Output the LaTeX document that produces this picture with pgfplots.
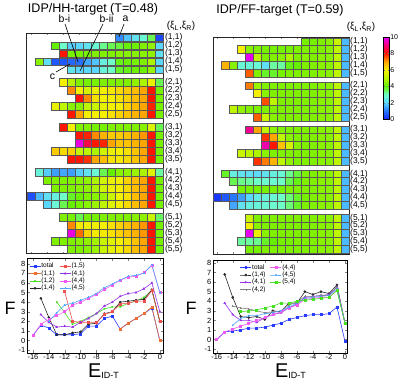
\documentclass[border=0pt]{standalone}
\usepackage{pgfplots}
\pgfplotsset{compat=1.18}
\usepackage{fontspec}
\setmainfont{Liberation Sans}
\setsansfont{Liberation Sans}

\pgfplotsset{
  colormap={idp}{rgb255(0cm)=(20,40,255); rgb255(1cm)=(40,120,255); rgb255(2cm)=(90,215,255); rgb255(3cm)=(110,255,200); rgb255(4cm)=(100,240,0); rgb255(5cm)=(190,245,0); rgb255(6cm)=(245,240,0); rgb255(7cm)=(255,165,0); rgb255(8cm)=(255,20,0); rgb255(9cm)=(245,0,120); rgb255(10cm)=(230,0,255)},
  hm/.style={
    scale only axis, anchor=north west,
    y dir=reverse, ymin=0.4, ymax=28.0,
    xtick={-16,-14,...,0}, xticklabels={},
    tick align=inside, major tick length=2bp,
    ytick={1,2,3,4,5,6.6,7.6,8.6,9.6,10.6,12.2,13.2,14.2,15.2,16.2,17.8,18.8,19.8,20.8,21.8,23.4,24.4,25.4,26.4,27.4},
    yticklabels={(1,1),(1,2),(1,3),(1,4),(1,5),(2,1),(2,2),(2,3),(2,4),(2,5),(3,1),(3,2),(3,3),(3,4),(3,5),(4,1),(4,2),(4,3),(4,4),(4,5),(5,1),(5,2),(5,3),(5,4),(5,5)},
    yticklabel pos=right,
    y tick style={draw=none},
    yticklabel style={font=\fontsize{8.5}{9}\selectfont, inner sep=1bp},
    axis line style={line width=0.7pt, black!85},
    colormap name=idp, point meta min=0, point meta max=10,
    clip=false,
  },
  hmcell/.style={scatter, only marks, mark=square*, mark size=3.95pt, point meta=explicit,
    scatter/use mapped color={draw=black!65, fill=mapped color}, line width=0.5pt},
  lc/.style={
    scale only axis, anchor=north west,
    xtick={-16,-14,...,0}, ytick={-1,0,...,8},
    tick align=inside, major tick length=2.5bp,
    ticklabel style={font=\fontsize{7.5}{8}\selectfont},
    xticklabel style={inner sep=1.5bp},
    yticklabel style={inner sep=1.5bp},
    /pgf/number format/assume math mode=true,
    axis line style={line width=0.6pt},
    transpose legend,
    legend columns=4,
    legend cell align=left,
    legend style={draw=none, fill=none, font=\fontsize{6.5}{7}\selectfont, anchor=north west,
      inner sep=0pt, nodes={inner sep=0.6bp},
      /tikz/every even column/.append style={column sep=4bp}},
    legend image code/.code={\draw[mark repeat=2,mark phase=2] plot coordinates {(0bp,0bp) (5.5bp,0bp) (11bp,0bp)};},
    every axis plot/.append style={line width=0.6pt, mark size=1pt, mark options={solid}},
  },
}
\newcommand{\hrow}[2]{\addplot[hmcell] table[header=false, x index=0, y expr={#1}, meta index=1, row sep=\\]{#2};}

\definecolor{cTot}{RGB}{40,60,255}
\definecolor{cOne}{RGB}{240,110,50}
\definecolor{cTwo}{RGB}{70,225,30}
\definecolor{cBlk}{RGB}{40,40,40}
\definecolor{cRed}{RGB}{240,80,80}
\definecolor{cPur}{RGB}{150,50,230}
\definecolor{cPnk}{RGB}{240,90,240}
\definecolor{cLbl}{RGB}{80,165,255}
\definecolor{cGry}{RGB}{130,130,130}

\begin{document}
\begin{tikzpicture}
\path[use as bounding box] (0,0) rectangle (398bp,-384bp);

% ---------------- left heatmap ----------------
\begin{axis}[hm, at={(26bp,-33bp)}, width=137.8bp, height=220.8bp, xmin=-16.625, xmax=0.6]
\hrow{1}{-5 1.2\\-4 1.8\\-3 2.3\\-2 2.8\\-1 3.6\\0 0.4\\}
\hrow{2}{-13 4.0\\-12 3.0\\-11 1.9\\-10 2.0\\-9 2.3\\-8 2.8\\-7 3.3\\-6 3.6\\-5 3.7\\-4 4.0\\-3 4.1\\-2 4.3\\-1 4.5\\0 2.0\\}
\hrow{3}{-12 8.0\\-11 4.2\\-10 4.2\\-9 4.2\\-8 4.3\\-7 4.3\\-6 4.3\\-5 4.4\\-4 4.4\\-3 4.4\\-2 4.4\\-1 4.5\\0 2.2\\}
\hrow{4}{-15 4.4\\-14 2.2\\-13 0.6\\-12 0.6\\-11 0.8\\-10 0.9\\-9 1.5\\-8 1.8\\-7 2.6\\-6 3.0\\-5 3.9\\-4 4.1\\-3 4.2\\-2 4.3\\-1 4.8\\0 2.0\\}
\hrow{5}{-11 2.3\\-10 2.0\\-9 2.0\\-8 2.0\\-7 2.7\\-6 3.0\\-5 3.8\\-4 3.9\\-3 4.1\\-2 4.1\\-1 4.6\\0 2.0\\}
\hrow{6.6}{-12 6.0\\-11 4.9\\-10 4.3\\-9 4.2\\-8 4.2\\-7 4.3\\-6 4.3\\-5 4.3\\-4 4.3\\-3 4.5\\-2 4.8\\-1 5.8\\0 3.6\\}
\hrow{7.6}{-11 7.2\\-10 6.0\\-9 5.4\\-8 5.8\\-7 6.0\\-6 6.1\\-5 6.3\\-4 6.5\\-3 6.7\\-2 7.0\\-1 8.0\\0 4.2\\}
\hrow{8.6}{-10 8.1\\-9 7.2\\-8 6.2\\-7 6.0\\-6 6.0\\-5 6.2\\-4 6.4\\-3 6.7\\-2 7.0\\-1 8.0\\0 4.2\\}
\hrow{9.6}{-13 5.8\\-12 5.0\\-11 4.4\\-10 4.4\\-9 5.0\\-8 5.2\\-7 5.7\\-6 6.0\\-5 6.0\\-4 6.4\\-3 6.7\\-2 7.0\\-1 7.9\\0 4.2\\}
\hrow{10.6}{-11 8.0\\-10 7.0\\-9 6.0\\-8 6.0\\-7 6.0\\-6 6.2\\-5 6.4\\-4 6.6\\-3 6.8\\-2 7.0\\-1 8.0\\0 4.2\\}
\hrow{12.2}{-12 8.0\\-11 6.0\\-10 4.3\\-9 4.3\\-8 4.2\\-7 4.2\\-6 4.3\\-5 4.3\\-4 4.3\\-3 4.3\\-2 4.4\\-1 5.5\\0 3.6\\}
\hrow{13.2}{-10 8.0\\-9 7.9\\-8 7.2\\-7 6.8\\-6 6.5\\-5 6.5\\-4 6.6\\-3 6.8\\-2 7.1\\-1 8.0\\0 4.2\\}
\hrow{14.2}{-10 9.8\\-9 8.6\\-8 8.0\\-7 7.9\\-6 7.0\\-5 6.6\\-4 6.6\\-3 6.8\\-2 7.0\\-1 8.0\\0 4.2\\}
\hrow{15.2}{-13 6.5\\-12 6.3\\-11 6.4\\-10 5.2\\-9 5.0\\-8 4.8\\-7 5.3\\-6 5.8\\-5 6.0\\-4 6.2\\-3 6.6\\-2 7.0\\-1 8.0\\0 4.2\\}
\hrow{16.2}{-11 8.0\\-10 8.0\\-9 7.8\\-8 7.0\\-7 6.7\\-6 6.2\\-5 6.1\\-4 6.3\\-3 6.6\\-2 7.0\\-1 8.0\\0 4.2\\}
\hrow{17.8}{-15 2.7\\-14 1.9\\-13 1.4\\-12 1.5\\-11 1.4\\-10 1.9\\-9 2.3\\-8 2.8\\-7 3.6\\-6 4.0\\-5 4.4\\-4 4.5\\-3 4.6\\-2 4.8\\-1 5.6\\0 3.2\\}
\hrow{18.8}{-14 4.3\\-13 4.3\\-12 4.3\\-11 4.3\\-10 4.4\\-9 4.5\\-8 4.8\\-7 5.3\\-6 5.8\\-5 6.0\\-4 6.4\\-3 6.7\\-2 7.0\\-1 8.0\\0 4.2\\}
\hrow{19.8}{-13 4.3\\-12 4.3\\-11 4.3\\-10 4.4\\-9 4.5\\-8 4.8\\-7 5.3\\-6 5.8\\-5 6.0\\-4 6.3\\-3 6.7\\-2 7.0\\-1 8.0\\0 4.2\\}
\hrow{20.8}{-16 0.5\\-15 1.7\\-14 2.2\\-13 2.6\\-12 3.0\\-11 3.8\\-10 4.1\\-9 4.3\\-8 4.4\\-7 4.6\\-6 5.2\\-5 5.9\\-4 6.2\\-3 6.7\\-2 7.0\\-1 8.0\\0 4.2\\}
\hrow{21.8}{-14 2.0\\-13 2.8\\-12 3.6\\-11 4.0\\-10 4.2\\-9 4.4\\-8 4.6\\-7 5.0\\-6 5.6\\-5 6.0\\-4 6.3\\-3 6.7\\-2 7.0\\-1 8.0\\0 4.2\\}
\hrow{23.4}{-12 4.3\\-11 4.2\\-10 3.6\\-9 4.2\\-8 4.2\\-7 4.3\\-6 4.3\\-5 4.3\\-4 4.3\\-3 4.4\\-2 4.5\\-1 5.2\\0 3.5\\}
\hrow{24.4}{-11 7.2\\-10 6.1\\-9 5.9\\-8 5.9\\-7 6.0\\-6 6.2\\-5 6.4\\-4 6.6\\-3 6.8\\-2 7.1\\-1 8.0\\0 4.2\\}
\hrow{25.4}{-11 9.8\\-10 7.4\\-9 6.4\\-8 6.1\\-7 6.1\\-6 6.2\\-5 6.4\\-4 6.6\\-3 6.8\\-2 7.1\\-1 8.0\\0 4.2\\}
\hrow{26.4}{-13 4.3\\-12 4.3\\-11 4.3\\-10 4.4\\-9 4.5\\-8 4.7\\-7 5.2\\-6 5.6\\-5 6.0\\-4 6.2\\-3 6.6\\-2 7.0\\-1 8.0\\0 4.2\\}
\hrow{27.4}{-11 4.3\\-10 4.3\\-9 4.4\\-8 4.6\\-7 5.2\\-6 5.7\\-5 6.0\\-4 6.3\\-3 6.7\\-2 7.0\\-1 8.0\\0 4.2\\}
\end{axis}

% ---------------- right heatmap ----------------
\begin{axis}[hm, at={(213bp,-37bp)}, width=136bp, height=217bp, xmin=-16.5, xmax=0.5,
  colorbar,
  colorbar style={at={(parent axis.north east)}, anchor=north west, xshift=26bp,
    width=6bp, height=82bp, ytick={0,2,4,6,8,10}, yticklabels={0,2,4,6,8,10}, xtick=\empty,
    yticklabel pos=right, major tick length=1.5bp,
    yticklabel style={font=\fontsize{7}{8}\selectfont, inner sep=0.6bp},
    axis line style={line width=0.3pt}}]
\hrow{1}{-5 4.2\\-4 4.2\\-3 4.3\\-2 4.4\\-1 5.2\\0 1.7\\}
\hrow{2}{-13 6.0\\-12 4.4\\-11 4.3\\-10 4.2\\-9 4.2\\-8 4.2\\-7 4.2\\-6 4.3\\-5 4.3\\-4 4.3\\-3 4.3\\-2 4.4\\-1 5.0\\0 1.7\\}
\hrow{3}{-12 9.9\\-11 5.0\\-10 4.3\\-9 4.3\\-8 4.4\\-7 4.8\\-6 4.3\\-5 4.4\\-4 4.3\\-3 4.4\\-2 4.4\\-1 5.0\\0 1.7\\}
\hrow{4}{-15 6.8\\-14 4.4\\-13 2.8\\-12 2.7\\-11 2.8\\-10 2.2\\-9 3.2\\-8 3.2\\-7 3.9\\-6 4.0\\-5 4.3\\-4 4.3\\-3 4.4\\-2 4.4\\-1 5.0\\0 1.7\\}
\hrow{5}{-12 7.5\\-11 4.3\\-10 3.8\\-9 3.8\\-8 4.2\\-7 4.3\\-6 4.3\\-5 4.3\\-4 4.3\\-3 4.4\\-2 4.4\\-1 5.0\\0 1.7\\}
\hrow{6.6}{-12 7.3\\-11 4.6\\-10 4.3\\-9 4.3\\-8 4.3\\-7 4.3\\-6 4.3\\-5 4.3\\-4 4.3\\-3 4.4\\-2 4.4\\-1 5.0\\0 1.7\\}
\hrow{7.6}{-11 6.0\\-10 4.4\\-9 4.3\\-8 4.3\\-7 4.3\\-6 4.3\\-5 4.3\\-4 4.3\\-3 4.4\\-2 4.4\\-1 5.0\\0 1.7\\}
\hrow{8.6}{-10 7.6\\-9 5.0\\-8 4.3\\-7 4.3\\-6 4.3\\-5 4.3\\-4 4.3\\-3 4.4\\-2 4.4\\-1 5.0\\0 1.7\\}
\hrow{9.6}{-14 5.0\\-13 4.5\\-12 4.3\\-11 4.3\\-10 4.3\\-9 4.3\\-8 4.3\\-7 4.3\\-6 4.3\\-5 4.3\\-4 4.3\\-3 4.4\\-2 4.4\\-1 5.0\\0 1.7\\}
\hrow{10.6}{-11 7.5\\-10 5.2\\-9 4.4\\-8 4.3\\-7 4.3\\-6 4.3\\-5 4.3\\-4 4.3\\-3 4.4\\-2 4.4\\-1 5.0\\0 1.7\\}
\hrow{12.2}{-12 9.2\\-11 7.0\\-10 5.0\\-9 4.5\\-8 4.3\\-7 4.3\\-6 4.3\\-5 4.3\\-4 4.3\\-3 4.4\\-2 4.4\\-1 5.0\\0 1.7\\}
\hrow{13.2}{-10 7.8\\-9 7.0\\-8 5.0\\-7 4.4\\-6 4.3\\-5 4.3\\-4 4.3\\-3 4.4\\-2 4.4\\-1 5.0\\0 1.7\\}
\hrow{14.2}{-10 9.4\\-9 8.0\\-8 6.6\\-7 5.4\\-6 4.4\\-5 4.3\\-4 4.3\\-3 4.4\\-2 4.4\\-1 5.0\\0 1.7\\}
\hrow{15.2}{-13 5.2\\-12 5.0\\-11 4.8\\-10 4.4\\-9 4.3\\-8 4.3\\-7 4.3\\-6 4.3\\-5 4.3\\-4 4.3\\-3 4.4\\-2 4.4\\-1 5.0\\0 1.7\\}
\hrow{16.2}{-11 7.8\\-10 7.3\\-9 6.8\\-8 5.0\\-7 4.5\\-6 4.3\\-5 4.3\\-4 4.3\\-3 4.4\\-2 4.4\\-1 5.0\\0 1.7\\}
\hrow{17.8}{-15 3.8\\-14 2.6\\-13 2.3\\-12 2.2\\-11 2.1\\-10 2.3\\-9 2.6\\-8 2.8\\-7 3.3\\-6 3.7\\-5 4.3\\-4 4.3\\-3 4.4\\-2 4.4\\-1 5.0\\0 1.7\\}
\hrow{18.8}{-14 3.6\\-13 3.3\\-12 3.2\\-11 3.0\\-10 2.9\\-9 2.9\\-8 3.0\\-7 3.6\\-6 3.9\\-5 4.3\\-4 4.3\\-3 4.4\\-2 4.4\\-1 5.0\\0 1.7\\}
\hrow{19.8}{-13 4.2\\-12 4.2\\-11 4.2\\-10 4.2\\-9 4.2\\-8 4.2\\-7 4.3\\-6 4.3\\-5 4.3\\-4 4.3\\-3 4.4\\-2 4.4\\-1 5.0\\0 1.7\\}
\hrow{20.8}{-16 0.2\\-15 0.6\\-14 1.0\\-13 1.4\\-12 2.0\\-11 2.5\\-10 2.7\\-9 2.8\\-8 3.0\\-7 3.4\\-6 3.8\\-5 4.2\\-4 4.3\\-3 4.4\\-2 4.4\\-1 5.0\\0 1.7\\}
\hrow{21.8}{-14 1.5\\-13 2.3\\-12 2.6\\-11 2.7\\-10 2.8\\-9 2.9\\-8 3.0\\-7 3.4\\-6 3.8\\-5 4.3\\-4 4.3\\-3 4.4\\-2 4.4\\-1 5.0\\0 1.7\\}
\hrow{23.4}{-12 5.2\\-11 4.3\\-10 4.3\\-9 4.3\\-8 4.3\\-7 4.3\\-6 4.3\\-5 4.3\\-4 4.3\\-3 4.4\\-2 4.4\\-1 5.0\\0 1.7\\}
\hrow{24.4}{-12 6.0\\-11 4.4\\-10 4.3\\-9 4.3\\-8 4.3\\-7 4.3\\-6 4.3\\-5 4.3\\-4 4.3\\-3 4.4\\-2 4.4\\-1 5.0\\0 1.7\\}
\hrow{25.4}{-12 9.9\\-11 5.8\\-10 4.4\\-9 4.3\\-8 4.3\\-7 4.3\\-6 4.3\\-5 4.3\\-4 4.3\\-3 4.4\\-2 4.4\\-1 5.0\\0 1.7\\}
\hrow{26.4}{-13 3.2\\-12 3.2\\-11 3.3\\-10 3.8\\-9 4.0\\-8 4.2\\-7 4.2\\-6 4.3\\-5 4.3\\-4 4.3\\-3 4.4\\-2 4.4\\-1 5.0\\0 1.7\\}
\hrow{27.4}{-12 4.2\\-11 4.2\\-10 4.3\\-9 4.3\\-8 4.3\\-7 4.3\\-6 4.3\\-5 4.3\\-4 4.3\\-3 4.4\\-2 4.4\\-1 5.0\\0 1.7\\}
\end{axis}

% ---------------- left line chart ----------------
\begin{axis}[lc, at={(27bp,-258bp)}, width=136bp, height=95bp,
  xmin=-16.75, xmax=0.4, ymin=-1.3, ymax=8.6,
  legend style={at={(0.015,0.955)}}]
\addplot[cTot, mark=square*] coordinates {(-16,0.55)(-15,1.6)(-14,1.3)(-13,0.6)(-12,0.6)(-11,0.6)(-10,0.7)(-9,1.5)(-8,1.5)(-7,2.3)(-6,2.55)(-5,1.2)(-4,1.8)(-3,2.3)(-2,2.8)(-1,3.4)(0,0)};
\addlegendentry{total}
\addplot[cOne, mark=square*] coordinates {(-5,1.2)(-4,1.8)(-3,2.3)(-2,2.8)(-1,3.5)(0,0)};
\addlegendentry{(1,1)}
\addplot[cTwo, mark=x] coordinates {(-13,4.0)(-12,2.9)(-11,1.7)(-10,2.0)(-9,2.4)(-8,2.8)(-7,3.3)(-6,3.5)(-5,3.5)(-4,3.9)(-3,4.1)(-2,4.5)(-1,5.2)(0,2.0)};
\addlegendentry{(1,2)}
\addplot[cBlk, mark=*] coordinates {(-15,4.4)(-14,2.4)(-13,0.6)(-12,0.6)(-11,0.8)(-10,0.9)(-9,1.7)(-8,1.8)(-7,2.8)(-6,3.0)(-5,4.0)(-4,4.1)(-3,4.2)(-2,4.3)(-1,5.3)(0,2.0)};
\addlegendentry{(1,4)}
\addplot[cRed, mark=square*] coordinates {(-12,5.1)(-11,2.0)(-10,1.9)(-9,1.9)(-8,1.9)(-7,2.7)(-6,3.0)(-5,3.8)(-4,3.9)(-3,4.1)(-2,4.1)(-1,5.2)(0,2.0)};
\addlegendentry{(1,5)}
\addplot[cPur, mark=triangle*] coordinates {(-15,2.7)(-14,1.9)(-13,1.4)(-12,1.5)(-11,1.4)(-10,1.9)(-9,2.3)(-8,2.8)(-7,3.6)(-6,4.0)(-5,4.6)(-4,4.9)(-3,5.0)(-2,5.4)(-1,6.0)(0,3.0)};
\addlegendentry{(4,1)}
\addplot[cPnk, mark=square*] coordinates {(-16,0.5)(-15,1.7)(-14,2.2)(-13,2.6)(-12,3.0)(-11,3.7)(-10,4.0)(-9,4.4)(-8,4.8)(-7,5.3)(-6,5.8)(-5,6.3)(-4,6.6)(-3,6.7)(-2,7.1)(-1,7.8)(0,5.0)};
\addlegendentry{(4,4)}
\addplot[cLbl, mark=+] coordinates {(-14,2.0)(-13,2.9)(-12,3.7)(-11,3.9)(-10,4.2)(-9,4.5)(-8,4.9)(-7,5.5)(-6,5.9)(-5,6.3)(-4,6.7)(-3,6.8)(-2,7.0)(-1,7.9)(0,5.0)};
\addlegendentry{(4,5)}
\end{axis}

% ---------------- right line chart ----------------
\begin{axis}[lc, at={(213bp,-260bp)}, width=134bp, height=93bp,
  xmin=-16.46, xmax=0.25, ymin=-1.4, ymax=8.3,
  legend style={at={(0.2,0.96)}}]
\addplot[cTot, mark=square*] coordinates {(-16,0)(-15,0.8)(-14,0.9)(-13,1.0)(-12,1.2)(-11,1.2)(-10,1.3)(-9,1.5)(-8,1.7)(-7,2.1)(-6,2.3)(-5,2.5)(-4,2.6)(-3,2.6)(-2,2.7)(-1,3.4)(0,-0.2)};
\addlegendentry{total}
\addplot[cBlk, mark=*] coordinates {(-15,6.8)(-14,4.4)(-13,2.4)(-12,2.3)(-11,2.4)(-10,2.1)(-9,3.0)(-8,2.9)(-7,3.8)(-6,3.8)(-5,5.0)(-4,4.7)(-3,5.0)(-2,4.8)(-1,5.7)(0,1.7)};
\addlegendentry{(1,4)}
\addplot[cPur, mark=triangle*] coordinates {(-15,3.8)(-14,2.6)(-13,2.0)(-12,2.0)(-11,1.8)(-10,2.3)(-9,2.6)(-8,2.8)(-7,3.3)(-6,3.7)(-5,4.4)(-4,4.5)(-3,4.6)(-2,4.7)(-1,5.5)(0,1.7)};
\addlegendentry{(4,1)}
\addplot[cGry, mark=+] coordinates {(-14,3.5)(-13,3.3)(-12,3.2)(-11,3.0)(-10,2.8)(-9,2.9)(-8,3.0)(-7,3.6)(-6,3.9)(-5,4.5)(-4,4.5)(-3,4.6)(-2,4.6)(-1,5.5)(0,1.7)};
\addlegendentry{(4,2)}
\addplot[cPnk, mark=square*] coordinates {(-16,0)(-15,0.8)(-14,1.1)(-13,1.4)(-12,1.7)(-11,2.0)(-10,2.3)(-9,2.6)(-8,2.9)(-7,3.3)(-6,3.6)(-5,4.2)(-4,4.3)(-3,4.4)(-2,4.4)(-1,5.2)(0,1.7)};
\addlegendentry{(4,4)}
\addplot[cLbl, mark=x] coordinates {(-14,1.5)(-13,2.2)(-12,2.5)(-11,2.5)(-10,2.7)(-9,2.8)(-8,3.0)(-7,3.4)(-6,3.8)(-5,4.3)(-4,4.4)(-3,4.5)(-2,4.6)(-1,5.3)(0,1.7)};
\addlegendentry{(4,5)}
\addplot[cTwo, mark=square*] coordinates {(-13,2.9)(-12,3.0)(-11,3.1)(-10,3.3)(-9,3.5)(-8,3.8)(-7,3.8)(-6,4.0)(-5,4.1)(-4,4.2)(-3,4.3)(-2,4.4)(-1,5.1)(0,1.7)};
\addlegendentry{(5,4)}
\end{axis}

% ---------------- texts ----------------
\node[font=\fontsize{12.6}{14}\selectfont, inner sep=0pt] at (93bp,-9bp) {IDP/HH-target (T=0.48)};
\node[font=\fontsize{12.6}{14}\selectfont, inner sep=0pt] at (280bp,-10bp) {IDP/FF-target (T=0.59)};
\node[font=\fontsize{10}{12}\selectfont, inner sep=0pt] at (181bp,-26bp) {(ξ\textsubscript{L},ξ\textsubscript{R})};
\node[font=\fontsize{10}{12}\selectfont, inner sep=0pt] at (361bp,-27bp) {(ξ\textsubscript{L},ξ\textsubscript{R})};

\node[font=\fontsize{10.5}{12}\selectfont, inner sep=0pt] at (64.5bp,-19bp) {b-i};
\node[font=\fontsize{10.5}{12}\selectfont, inner sep=0pt] at (106.5bp,-19bp) {b-ii};
\node[font=\fontsize{10.5}{12}\selectfont, inner sep=0pt] at (125.5bp,-19bp) {a};
\node[font=\fontsize{10.5}{12}\selectfont, inner sep=0pt] at (52.5bp,-77bp) {c};
\draw[line width=0.6pt] (65bp,-24bp) -- (78bp,-62bp);
\draw[line width=0.6pt] (103bp,-24bp) -- (80bp,-71bp);
\draw[line width=0.6pt] (124bp,-24bp) -- (119bp,-37bp);
\draw[line width=0.6pt] (56bp,-72bp) -- (70bp,-64bp);

\node[font=\fontsize{18}{20}\selectfont] at (10bp,-308bp) {F};
\node[font=\fontsize{18}{20}\selectfont] at (191bp,-308bp) {F};
\node[anchor=base west, inner sep=0pt] at (88bp,-377bp) {\fontsize{20}{22}\selectfont E\raisebox{-1bp}{\fontsize{9}{10}\selectfont ID-T}};
\node[anchor=base west, inner sep=0pt] at (275bp,-377bp) {\fontsize{20}{22}\selectfont E\raisebox{-1bp}{\fontsize{9}{10}\selectfont ID-T}};
\end{tikzpicture}
\end{document}
